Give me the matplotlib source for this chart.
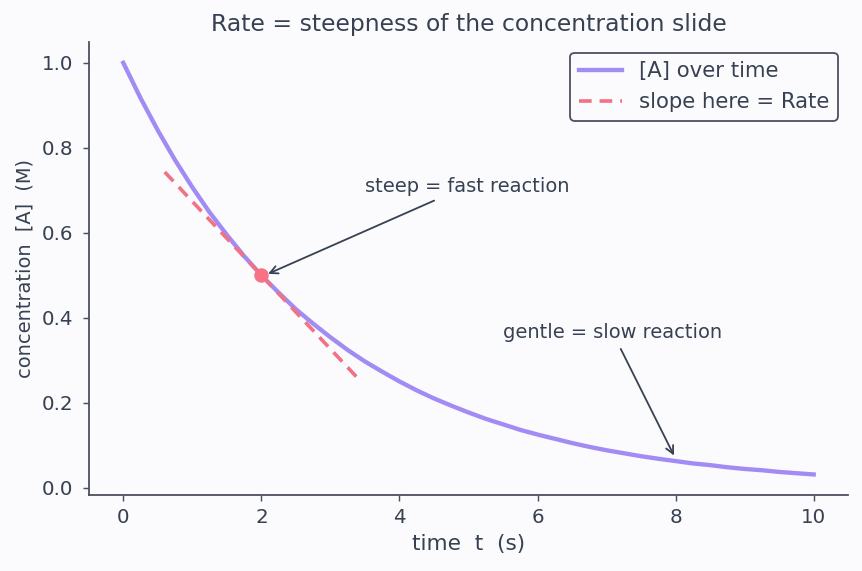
import matplotlib.pyplot as plt

plt.rcParams['font.family'] = ['DejaVu Sans']

# concentration every 0.25 s
t_vals = [0, 0.25, 0.5, 0.75, 1, 1.25, 1.5, 1.75, 2, 2.25, 2.5, 2.75, 3, 3.25, 3.5, 3.75,
          4, 4.25, 4.5, 4.75, 5, 5.25, 5.5, 5.75, 6, 6.25, 6.5, 6.75, 7, 7.25, 7.5, 7.75,
          8, 8.25, 8.5, 8.75, 9, 9.25, 9.5, 9.75, 10]
conc_vals = [1.0, 0.917, 0.841, 0.771, 0.707, 0.648, 0.595, 0.545, 0.5, 0.459, 0.420,
             0.386, 0.354, 0.324, 0.297, 0.273, 0.25, 0.229, 0.210, 0.193, 0.177, 0.162,
             0.149, 0.136, 0.125, 0.115, 0.105, 0.096, 0.088, 0.081, 0.074, 0.068,
             0.0625, 0.057, 0.053, 0.048, 0.044, 0.041, 0.037, 0.034, 0.031]

# tangent at t = 2
tan_t = [0.6, 3.4]
tan_c = [0.743, 0.257]
point_t, point_c = 2, 0.5

text_col = '#374151'
bg = '#fbfbfe'

fig, ax = plt.subplots(figsize=(862 / 130, 571 / 130), dpi=130)
fig.patch.set_facecolor(bg)
ax.set_facecolor(bg)

ax.plot(t_vals, conc_vals, color='#a28cf4', lw=2.4, label='[A] over time')
ax.plot(tan_t, tan_c, color='#f07285', lw=2, ls=(0, (3.5, 2.2)), label='slope here = Rate')
ax.plot([point_t], [point_c], 'o', color='#f87185', ms=7, zorder=5)

ax.annotate('steep = fast reaction', xy=(2.05, 0.5), xytext=(3.5, 0.71),
            fontsize=10.75, color=text_col, va='center', ha='left',
            arrowprops=dict(arrowstyle='->', color=text_col, lw=1))
ax.annotate('gentle = slow reaction', xy=(8, 0.068), xytext=(5.5, 0.365),
            fontsize=10.75, color=text_col, va='center', ha='left',
            arrowprops=dict(arrowstyle='->', color=text_col, lw=1))

ax.set_title('Rate = steepness of the concentration slide', fontsize=13, color=text_col)
ax.set_xlabel('time  t  (s)', fontsize=12, color=text_col)
ax.set_ylabel('concentration  [A]  (M)', fontsize=10.75, color=text_col, labelpad=4)

for s in ['top', 'right']:
    ax.spines[s].set_visible(False)
for s in ['left', 'bottom']:
    ax.spines[s].set_color('#4b5060')
    ax.spines[s].set_linewidth(1)
ax.tick_params(colors='#4b5060', labelcolor=text_col, labelsize=11)
ax.tick_params(axis='y', pad=5)

leg = ax.legend(loc='upper right', fontsize=11.8, frameon=True, fancybox=True,
                edgecolor='#4b5060', facecolor=bg, framealpha=1)
for txt in leg.get_texts():
    txt.set_color(text_col)

plt.subplots_adjust(left=0.103, right=0.984, top=0.926, bottom=0.133)
plt.savefig('out.png', facecolor=bg)
